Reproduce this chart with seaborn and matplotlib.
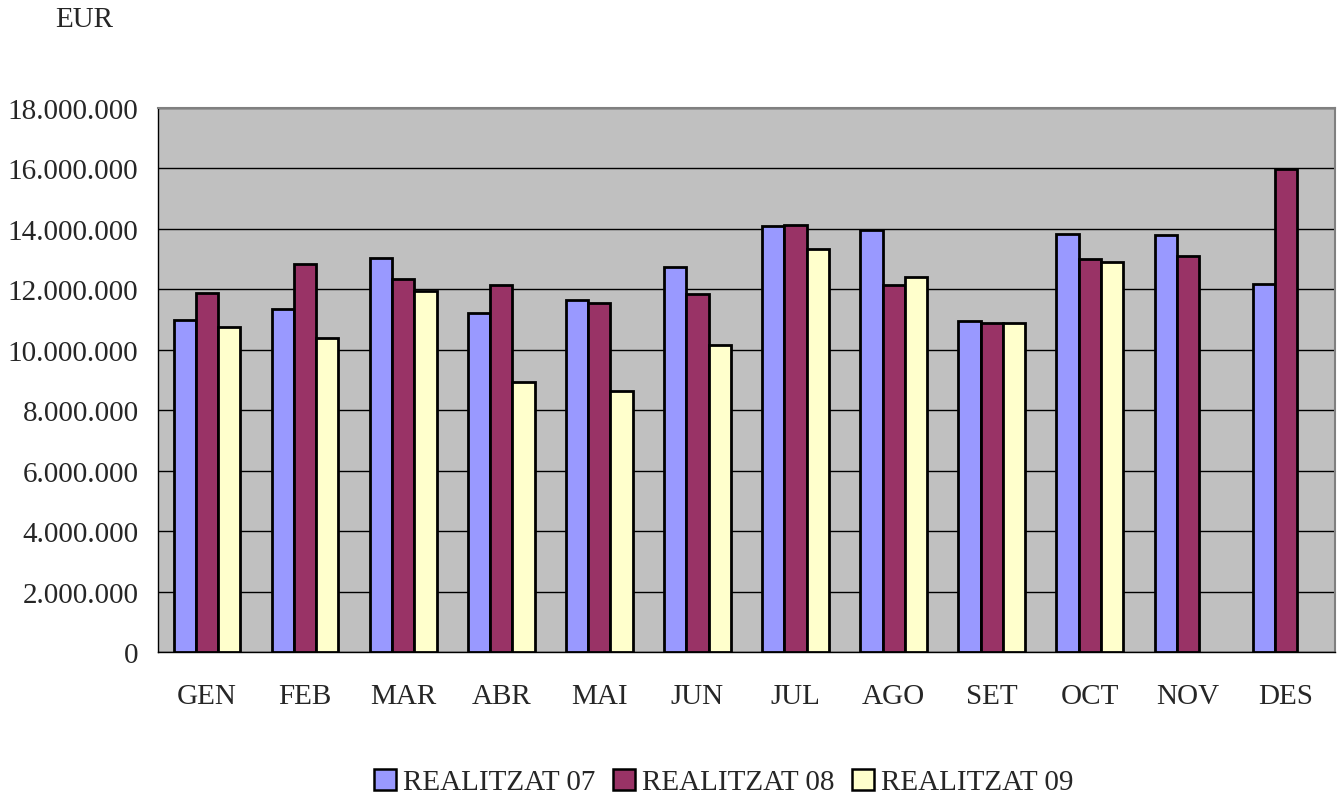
import numpy as np
import pandas as pd
import matplotlib
matplotlib.use("Agg")
import matplotlib.pyplot as plt
from matplotlib.ticker import FuncFormatter, MultipleLocator
import seaborn as sns

# ==========================================
# Data (EUR)
# ==========================================
months = ["GEN", "FEB", "MAR", "ABR", "MAI", "JUN",
          "JUL", "AGO", "SET", "OCT", "NOV", "DES"]
series_names = ["REALITZAT 07", "REALITZAT 08", "REALITZAT 09"]

real_07 = [10970000, 11360000, 13040000, 11210000, 11650000, 12730000,
           14090000, 13950000, 10950000, 13820000, 13790000, 12190000]
real_08 = [11870000, 12850000, 12330000, 12130000, 11550000, 11860000,
           14120000, 12130000, 10870000, 13020000, 13090000, 15980000]
real_09 = [10750000, 10400000, 11940000, 8950000, 8620000, 10170000,
           13350000, 12410000, 10890000, 12910000, np.nan, np.nan]

colors = ["#9999FF", "#993366", "#FFFFCC"]

df = pd.DataFrame({
    "Mes": months * 3,
    "Serie": np.repeat(series_names, len(months)),
    "Valor": real_07 + real_08 + real_09,
})

# ==========================================
# Plot
# ==========================================
sns.set_style("white")
plt.rcParams['font.family'] = ['Liberation Serif', 'DejaVu Serif']

fig = plt.figure(figsize=(13.37, 8.03), dpi=100)
ax = fig.add_axes([158 / 1337, 1 - 653 / 803, 1177 / 1337, 544 / 803])
ax.set_facecolor("#C0C0C0")

sns.barplot(data=df, x="Mes", y="Valor", hue="Serie", order=months,
            hue_order=series_names, palette=colors, width=0.68,
            edgecolor="black", linewidth=2.0, saturation=1, ax=ax, zorder=3)

ax.set_ylim(0, 18000000)
ax.set_xlim(-0.5, len(months) - 0.5)
ax.yaxis.set_major_locator(MultipleLocator(2000000))
ax.yaxis.set_major_formatter(FuncFormatter(lambda v, p: f"{int(v):,}".replace(",", ".")))
ax.grid(axis="y", color="black", linewidth=1.0, zorder=1)
ax.set_axisbelow(True)

# category boundary ticks on x axis
ax.set_xticks(np.arange(-0.5, len(months), 1), minor=True)
ax.tick_params(axis="x", which="major", length=0, labelsize=21, pad=22)
ax.tick_params(axis="x", which="minor", length=7, width=1, color="black", direction="out")
ax.tick_params(axis="y", which="major", length=8, width=1, color="black",
               direction="out", labelsize=21, pad=6)
ax.set_xlabel("")
ax.set_ylabel("")

for side in ["top", "right"]:
    ax.spines[side].set_color("#808080")
    ax.spines[side].set_linewidth(1.5)
for side in ["left", "bottom"]:
    ax.spines[side].set_color("black")
    ax.spines[side].set_linewidth(1.0)

fig.text(84 / 1337, 1 - 20 / 803, "EUR", fontsize=21, ha="center", va="center")

ax.legend_.remove()
handles = [plt.Rectangle((0, 0), 1, 1, facecolor=c, edgecolor="black", linewidth=1.8)
           for c in colors]
fig.legend(handles, series_names, loc="center", bbox_to_anchor=(724 / 1337, 1 - 783 / 803),
           ncol=3, frameon=False, fontsize=21, handlelength=0.75, handleheight=0.75,
           handletextpad=0.25, columnspacing=0.6, borderaxespad=0)

plt.savefig("out.png", dpi=100)
plt.close()
